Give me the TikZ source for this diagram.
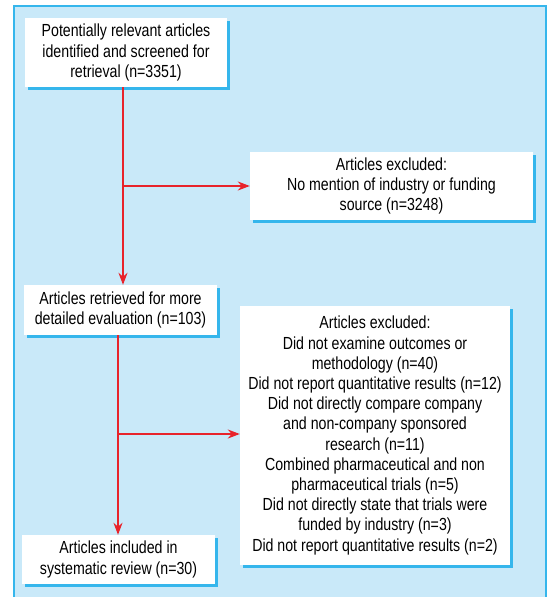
\documentclass[tikz,border=0pt]{standalone}
\usepackage{fontspec}
\setmainfont{Liberation Sans}[FakeStretch=0.81]
\usepackage{xcolor}
\usepackage{tikz}
\usetikzlibrary{arrows.meta,shadows}

\definecolor{panelblue}{HTML}{C9E9F9}
\definecolor{edgeblue}{HTML}{35B6EC}
\definecolor{flowred}{HTML}{E8232B}

\tikzset{
  box/.style={fill=white, align=center, inner sep=0pt,
    font=\fontsize{17.5}{20.2}\selectfont,
    drop shadow={shadow xshift=3pt, shadow yshift=-3pt, fill=edgeblue, opacity=1}},
  flow/.style={draw=flowred, line width=1.3pt, -{Stealth[length=12pt,width=9pt]}}
}

\begin{document}
\begin{tikzpicture}[x=1pt,y=-1pt]

\useasboundingbox (0,0) rectangle (547,597);
\fill[panelblue] (14,6) rectangle (546,600);
\draw[edgeblue, line width=1.3pt] (14,600)--(14,6)--(546,6)--(546,600);

\node[box, minimum width=202pt, minimum height=69pt] (screened) at (126,52.5)
  {Potentially relevant articles\\identified and screened for\\retrieval (n=3351)};

\node[box, minimum width=283pt, minimum height=68pt] (nofunding) at (391.5,186)
  {Articles excluded:\\No mention of industry or funding\\source (n=3248)};

\node[box, minimum width=193pt, minimum height=50pt] (retrieved) at (120.5,310)
  {Articles retrieved for more\\detailed evaluation (n=103)};

\node[box, minimum width=270pt, minimum height=259pt] (excluded) at (375,435.5)
  {Articles excluded:\\Did not examine outcomes or\\methodology (n=40)\\
   Did not report quantitative results (n=12)\\Did not directly compare company\\
   and non-company sponsored\\research (n=11)\\Combined pharmaceutical and non\\
   pharmaceutical trials (n=5)\\Did not directly state that trials were\\
   funded by industry (n=3)\\Did not report quantitative results (n=2)};

\node[box, minimum width=193pt, minimum height=49pt] (included) at (118.5,559.5)
  {Articles included in\\systematic review (n=30)};

\coordinate (split1) at (123,186);
\coordinate (split2) at (118,434);

\draw[flow] (screened.south -| split1) -- (retrieved.north -| split1);
\draw[flow] (split1) -- (nofunding.west |- split1);

\draw[flow] (retrieved.south -| split2) -- (included.north -| split2);
\draw[flow] (split2) -- (excluded.west |- split2);

\end{tikzpicture}
\end{document}
